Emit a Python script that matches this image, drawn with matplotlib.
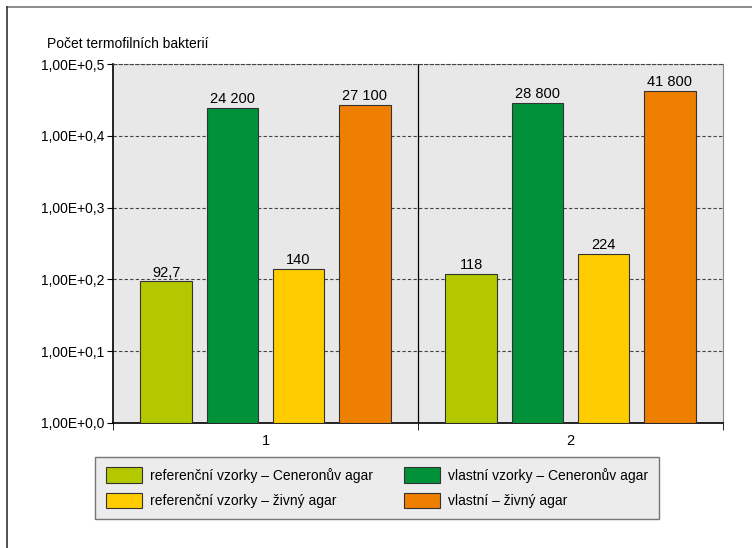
import numpy as np
import matplotlib.pyplot as plt
from matplotlib.lines import Line2D
from matplotlib.ticker import FixedLocator, NullLocator

plt.rcParams['font.family'] = ['Liberation Sans', 'DejaVu Sans']

categories = ['1', '2']
series_names = ['referenční vzorky – Ceneronův agar',
                'vlastní vzorky – Ceneronův agar',
                'referenční vzorky – živný agar',
                'vlastní – živný agar']
ref_ceneron = [92.7, 118]
own_ceneron = [24200, 28800]
ref_nutrient = [140, 224]
own_nutrient = [27100, 41800]
value_labels = [['92,7', '118'], ['24 200', '28 800'], ['140', '224'], ['27 100', '41 800']]
ytick_labels = ['1,00E+0,0', '1,00E+0,1', '1,00E+0,2', '1,00E+0,3', '1,00E+0,4', '1,00E+0,5']

colors = ['#B4C800', '#009139', '#FFCC00', '#EF7F00']
series = [ref_ceneron, own_ceneron, ref_nutrient, own_nutrient]

fig = plt.figure(figsize=(7.52, 5.48), dpi=100)
ax = fig.add_axes([113 / 752, 1 - 423 / 548, 610 / 752, 359 / 548])
ax.set_facecolor('#E8E8E8')

x = np.arange(len(categories))
offsets = [-0.325, -0.108, 0.108, 0.325]
width = 0.17
handles = []
for vals, labels, off, col, name in zip(series, value_labels, offsets, colors, series_names):
    bars = ax.bar(x + off, vals, width, bottom=1, color=col, edgecolor='#333333',
                  linewidth=0.8, label=name, zorder=3)
    handles.append(bars)
    for b, v, t in zip(bars, vals, labels):
        ax.text(b.get_x() + b.get_width() / 2, v * 1.06, t, ha='center', va='bottom',
                fontsize=10.5, zorder=4)

ax.set_yscale('log')
ax.set_ylim(1, 1e5)
ax.set_xlim(-0.5, 1.5)
ax.yaxis.set_major_locator(FixedLocator([1, 10, 100, 1e3, 1e4, 1e5]))
ax.yaxis.set_minor_locator(NullLocator())
ax.set_yticklabels(ytick_labels, fontsize=10)
ax.yaxis.grid(True, linestyle=(0, (3, 2)), color='#444444', linewidth=0.8, zorder=1)

ax.set_xticks(x)
ax.set_xticklabels(categories, fontsize=10.5)
ax.tick_params(axis='x', which='major', length=0, pad=8)
ax.set_xticks([-0.5, 0.5, 1.5], minor=True)
ax.tick_params(axis='x', which='minor', length=5, color='black')
ax.tick_params(axis='y', length=4, pad=2)
ax.axvline(0.5, color='black', linewidth=0.9, zorder=2)

ax.spines['top'].set_linestyle((0, (3, 2)))
ax.spines['top'].set_color('#444444')
ax.spines['top'].set_linewidth(0.8)
ax.spines['right'].set_color('#888888')
ax.spines['right'].set_linewidth(0.8)
ax.spines['left'].set_linewidth(1.2)
ax.spines['bottom'].set_linewidth(1.2)

fig.text(47 / 752, 1 - 44 / 548, 'Počet termofilních bakterií', fontsize=10,
         ha='left', va='center')

order = [0, 2, 1, 3]
leg = fig.legend([handles[i] for i in order], [series_names[i] for i in order],
                 ncol=2, loc='upper center', bbox_to_anchor=(377 / 752, 1 - 457 / 548),
                 borderaxespad=0, fontsize=10, frameon=True, fancybox=False,
                 handlelength=2.6, handleheight=1.3, handletextpad=0.6,
                 columnspacing=2.2, borderpad=0.75, labelspacing=0.75)
leg.get_frame().set_facecolor('#E8E8E8')
leg.get_frame().set_edgecolor('#555555')
leg.get_frame().set_linewidth(1.0)

# outer frame lines along the top and left edges
fig.add_artist(Line2D([7 / 752, 1.0], [1 - 7 / 548, 1 - 7 / 548], color='#777777', linewidth=1.2))
fig.add_artist(Line2D([7 / 752, 7 / 752], [0, 1 - 7 / 548], color='#333333', linewidth=1.2))

fig.savefig('out.png', dpi=100)
